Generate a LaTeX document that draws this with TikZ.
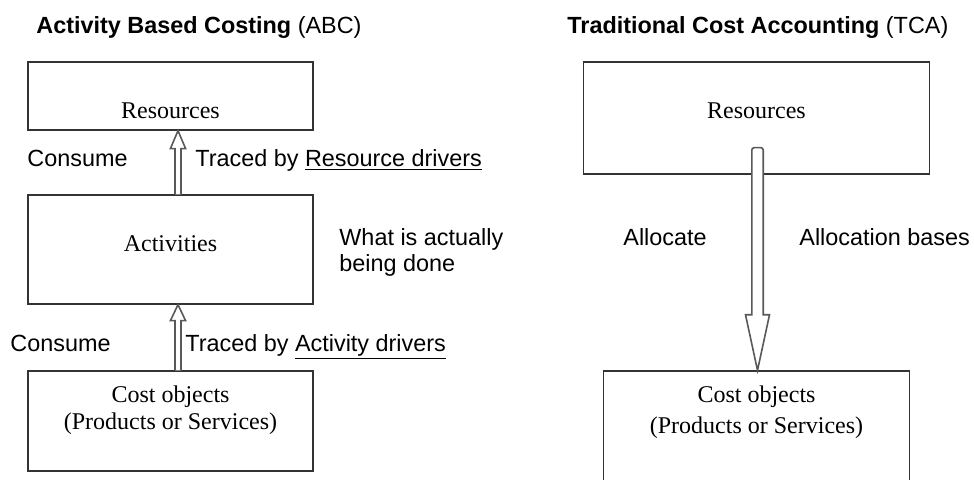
\documentclass[tikz,border=0pt]{standalone}
\usepackage{fontspec}
\setmainfont{Liberation Serif}
\setsansfont{Liberation Sans}

\begin{document}
\begin{tikzpicture}[x=0.5pt, y=-0.5pt,
  box/.style={draw=black!80, line width=0.65pt, inner sep=0pt},
  serif/.style={font=\rmfamily\fontsize{12}{13.5}\selectfont, inner sep=0pt, align=center},
  sans/.style={font=\sffamily\fontsize{11.7}{13}\selectfont, inner sep=0pt},
  hollow/.style={draw=black!65, fill=white, line width=0.8pt, line join=miter}]

\clip (0,0) rectangle (974,479);

% left: ABC
\node (titleA) at (36,33) [sans, anchor=base west] {\textbf{Activity Based Costing} (ABC)};

\node (resA) at (170.5,96) [box, minimum width=142.5pt, minimum height=34pt] {};
\node (actA) at (170.5,249.5) [box, minimum width=142.5pt, minimum height=54.5pt] {};
\node (costA) at (170.5,421) [box, minimum width=142.5pt, minimum height=50pt] {};

\node (resAtxt) at (170.5,118) [serif, anchor=base] {Resources};
\node (actAtxt) at (170.5,251) [serif, anchor=base] {Activities};
\node (costAtxt) at (170.5,410.5) [serif] {Cost objects\\(Products or Services)};

\coordinate (up1) at ([xshift=3.75pt]actA.north);
\coordinate (tip1) at ([xshift=3.75pt]resA.south);
\draw[hollow] ([xshift=-1.5pt]up1) -- ([xshift=-1.5pt,yshift=-9pt]tip1) -- ([xshift=-3.8pt,yshift=-9pt]tip1) -- (tip1) -- ([xshift=3.8pt,yshift=-9pt]tip1) -- ([xshift=1.5pt,yshift=-9pt]tip1) -- ([xshift=1.5pt]up1);

\coordinate (up2) at ([xshift=3.75pt]costA.north);
\coordinate (tip2) at ([xshift=3.75pt]actA.south);
\draw[hollow] ([xshift=-1.5pt]up2) -- ([xshift=-1.5pt,yshift=-8pt]tip2) -- ([xshift=-3.8pt,yshift=-8pt]tip2) -- (tip2) -- ([xshift=3.8pt,yshift=-8pt]tip2) -- ([xshift=1.5pt,yshift=-8pt]tip2) -- ([xshift=1.5pt]up2);

\node (cons1) at (27,166) [sans, anchor=base west] {Consume};
\node (trace1) at (195,166) [sans, anchor=base west] {Traced by \underline{Resource drivers}};
\node (cons2) at (10,351) [sans, anchor=base west] {Consume};
\node (trace2) at (185,351) [sans, anchor=base west] {Traced by \underline{Activity drivers}};
\node (done) at (339,228) [sans, anchor=north west, align=left] {What is actually\\being done};

% right: TCA
\node (titleT) at (567,33) [sans, anchor=base west] {\textbf{Traditional Cost Accounting} (TCA)};

\node (resT) at (756.5,118) [box, minimum width=173pt, minimum height=56pt] {};
\node (costT) at (756.5,435.5) [box, minimum width=153pt, minimum height=64.5pt] {};

\node (resTtxt) at (756.5,118) [serif, anchor=base] {Resources};
\node (costTtxt) at (756.5,412) [serif, font=\rmfamily\fontsize{12}{15.5}\selectfont] {Cost objects\\(Products or Services)};

\coordinate (top3) at ([xshift=0.5pt,yshift=13.5pt]resT.south);
\coordinate (tip3) at ([xshift=0.5pt]costT.north);
\draw[hollow] ([xshift=-2.85pt,yshift=27.8pt]tip3) [rounded corners=1.2pt] -- ([xshift=-2.85pt]top3) -- ([xshift=2.85pt]top3) [sharp corners] -- ([xshift=2.85pt,yshift=27.8pt]tip3) -- ([xshift=6pt,yshift=27.8pt]tip3) -- (tip3) -- ([xshift=-6pt,yshift=27.8pt]tip3) -- cycle;

\node (alloc) at (623,245) [sans, anchor=base west] {Allocate};
\node (bases) at (799,245) [sans, anchor=base west] {Allocation bases};

\end{tikzpicture}
\end{document}
